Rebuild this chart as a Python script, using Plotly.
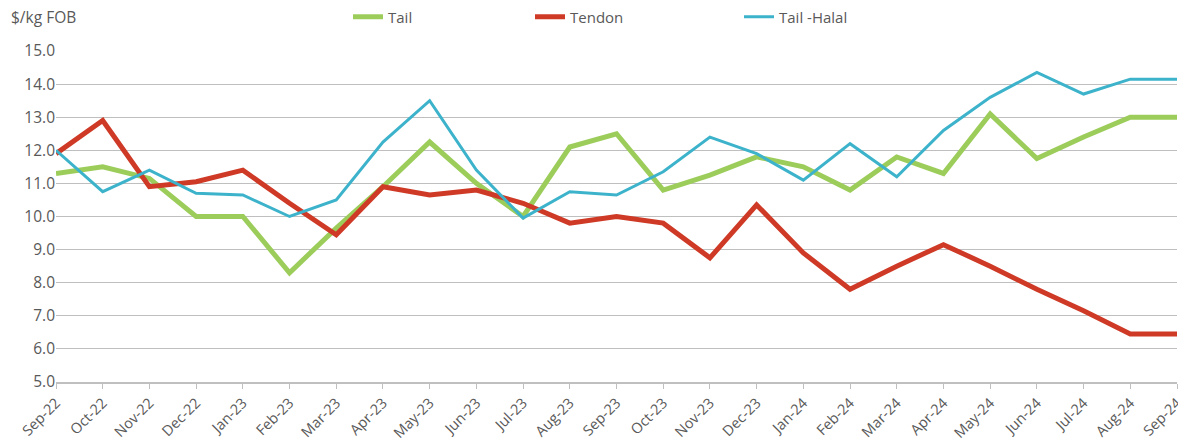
import plotly.graph_objects as go

months = ["Sep-22", "Oct-22", "Nov-22", "Dec-22", "Jan-23", "Feb-23", "Mar-23", "Apr-23",
          "May-23", "Jun-23", "Jul-23", "Aug-23", "Sep-23", "Oct-23", "Nov-23", "Dec-23",
          "Jan-24", "Feb-24", "Mar-24", "Apr-24", "May-24", "Jun-24", "Jul-24", "Aug-24", "Sep-24"]

tail = [11.3, 11.5, 11.15, 10.0, 10.0, 8.3, 9.65, 10.9, 12.25, 11.0, 10.0, 12.1, 12.5,
        10.8, 11.25, 11.8, 11.5, 10.8, 11.8, 11.3, 13.1, 11.75, 12.4, 13.0, 13.0]
tendon = [11.9, 12.9, 10.9, 11.05, 11.4, 10.4, 9.45, 10.9, 10.65, 10.8, 10.4, 9.8, 10.0,
          9.8, 8.75, 10.35, 8.9, 7.8, 8.5, 9.15, 8.5, 7.8, 7.15, 6.45, 6.45]
tail_halal = [12.0, 10.75, 11.4, 10.7, 10.65, 10.0, 10.5, 12.25, 13.5, 11.4, 9.95, 10.75, 10.65,
              11.35, 12.4, 11.9, 11.1, 12.2, 11.2, 12.6, 13.6, 14.35, 13.7, 14.15, 14.15]

y_ticks = [5, 6, 7, 8, 9, 10, 11, 12, 13, 14, 15]

GREEN = "#9CCD5B"
RED = "#CF3A27"
BLUE = "#3DB3CB"
TEXT = "#595959"
FONT = "Open Sans"

fig = go.Figure()
fig.add_trace(go.Scatter(x=months, y=tail, mode="lines", name="Tail",
                         line=dict(color=GREEN, width=5), legend="legend"))
fig.add_trace(go.Scatter(x=months, y=tendon, mode="lines", name="Tendon",
                         line=dict(color=RED, width=5), legend="legend2"))
fig.add_trace(go.Scatter(x=months, y=tail_halal, mode="lines", name="Tail -Halal",
                         line=dict(color=BLUE, width=3), legend="legend3"))

# page body has an 8px margin; compensate so the figure fills the window
OFF = 8
W, H = 1186 - OFF, 439 - OFF
L = 56 - OFF
T = 51 - OFF
R = W - (1177 - OFF)
B = H - (382 - OFF)
pw = W - L - R
ph = H - T - B


def lx(px):
    return (px - OFF - L) / pw


def ly(py):
    return (H - B - (py - OFF)) / ph


leg_common = dict(orientation="h", yanchor="middle", y=ly(17),
                  xanchor="left", font=dict(family=FONT, size=15, color=TEXT),
                  bgcolor="rgba(0,0,0,0)", borderwidth=0)

fig.update_layout(
    width=W, height=H,
    margin=dict(l=L, r=R, t=T, b=B, autoexpand=False),
    paper_bgcolor="white", plot_bgcolor="white",
    font=dict(family=FONT, size=15, color=TEXT),
    showlegend=True,
    legend=dict(x=lx(388 - 40), **leg_common),
    legend2=dict(x=lx(570 - 40), **leg_common),
    legend3=dict(x=lx(779 - 40), **leg_common),
    xaxis=dict(type="category", range=[0, len(months) - 1], tickangle=-45, automargin=False,
               showgrid=False, showline=True, linecolor="#BFBFBF", linewidth=1.5,
               ticks="outside", ticklen=5, tickcolor="#BFBFBF", tickwidth=1,
               tickfont=dict(family=FONT, size=14.5, color=TEXT), zeroline=False),
    yaxis=dict(range=[5, 15], tickvals=y_ticks, automargin=False,
               ticktext=[f"{v:.1f}" for v in y_ticks],
               showgrid=True, gridcolor="#BFBFBF", gridwidth=1.2,
               zeroline=False, showline=False, ticks="",
               tickfont=dict(family=FONT, size=15.5, color=TEXT)),
    annotations=[dict(text="$/kg FOB", xref="paper", yref="paper",
                      x=lx(9), y=ly(17),
                      xanchor="left", yanchor="middle", showarrow=False,
                      font=dict(family=FONT, size=15.5, color=TEXT))],
)

fig.write_html("out.html")
